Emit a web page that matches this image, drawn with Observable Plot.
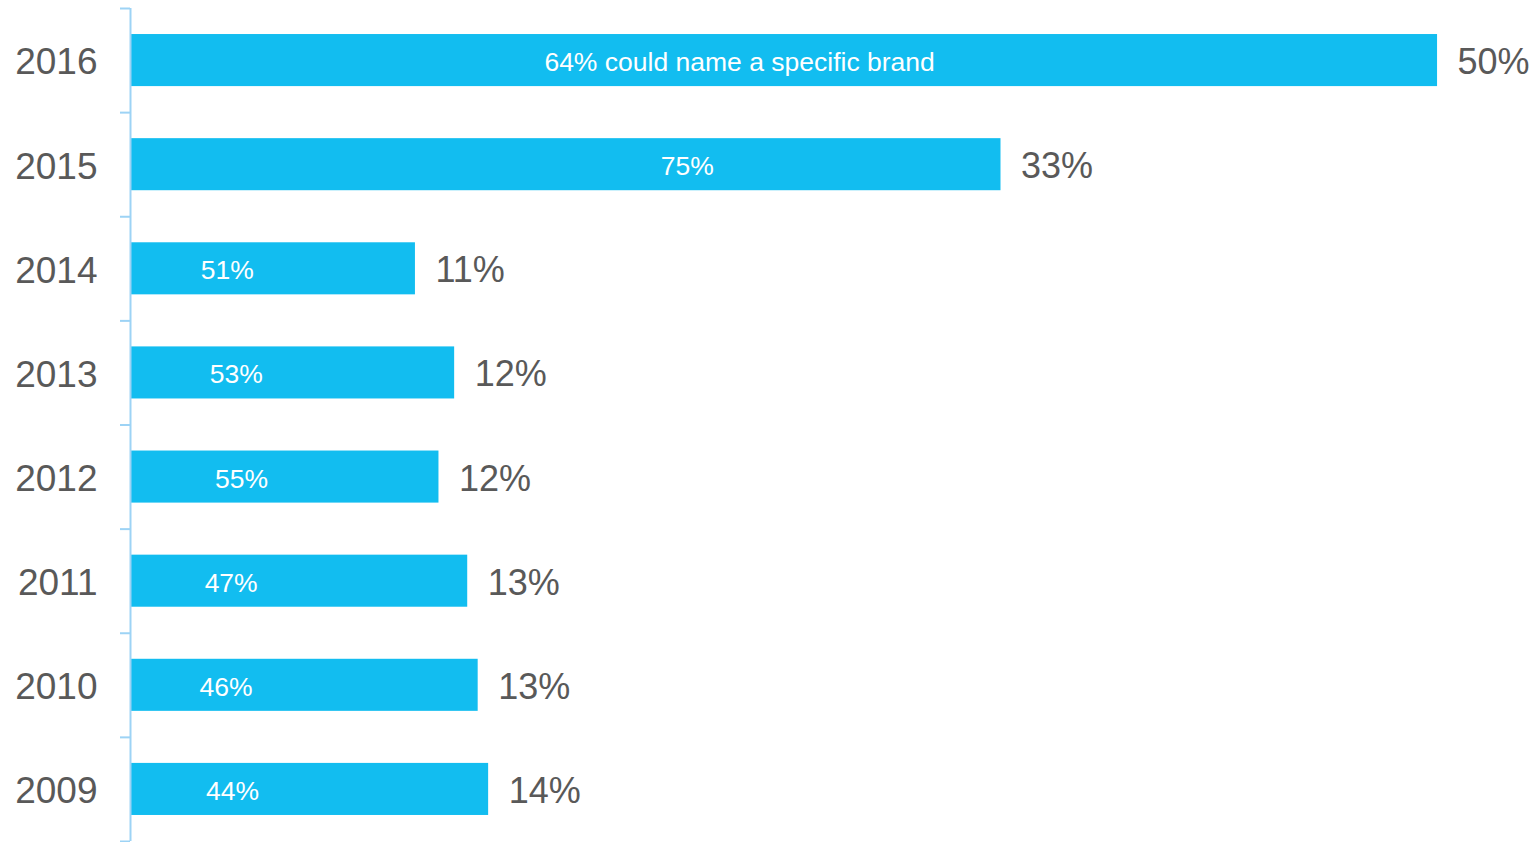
<!DOCTYPE html>
<html>
<head>
<meta charset="utf-8">
<script src="https://cdn.jsdelivr.net/npm/d3@7"></script>
<script src="https://cdn.jsdelivr.net/npm/@observablehq/plot@0.6"></script>
<style>
  html, body { margin: 0; padding: 0; background: #fff; }
  #chart svg { display: block; }
</style>
</head>
<body>
<div id="chart"></div>
<script>
// Data
const years = ["2016", "2015", "2014", "2013", "2012", "2011", "2010", "2009"];
const values = [50, 33.3, 10.9, 12.4, 11.8, 12.9, 13.3, 13.7];
const valueLabels = ["50%", "33%", "11%", "12%", "12%", "13%", "13%", "14%"];
const innerLabels = ["64% could name a specific brand", "75%", "51%", "53%", "55%", "47%", "46%", "44%"];
const innerLabelAt = [23.3, 21.3, 3.7, 4.05, 4.25, 3.85, 3.65, 3.9];

const rows = years.map((year, i) => ({
  year, i, value: values[i], label: valueLabels[i], inner: innerLabels[i], innerAt: innerLabelAt[i]
}));

const barColor = "#12bdf0";
const axisColor = "#9dd3f5";
const textColor = "#595959";
const font = "Liberation Sans, Arial, sans-serif";

const chart = Plot.plot({
  width: 1539,
  height: 842,
  marginLeft: 130,
  marginRight: 0,
  marginTop: 8,
  marginBottom: 1,
  style: { fontFamily: font, background: "#fff" },
  x: { domain: [0, 53.9], axis: null },
  y: { domain: [0, years.length], reverse: true, axis: null },
  marks: [
    Plot.rectX(rows, {
      x1: 0, x2: "value",
      y1: d => d.i + 0.25, y2: d => d.i + 0.75,
      fill: barColor
    }),
    Plot.ruleX([0], { y1: 0, y2: years.length, stroke: axisColor, strokeWidth: 2 }),
    Plot.axisY({
      ticks: d3.range(years.length + 1),
      tickSize: 10,
      tickFormat: () => "",
      stroke: axisColor,
      strokeWidth: 2
    }),
    Plot.axisY({
      ticks: d3.range(years.length).map(i => i + 0.5),
      tickSize: 0,
      tickPadding: 33,
      tickFormat: t => years[Math.floor(t)],
      fontSize: 37,
      fill: textColor,
      dy: 2
    }),
    Plot.text(rows, {
      x: "value", y: d => d.i + 0.5, text: "label",
      textAnchor: "start", dx: 20, dy: 2,
      fontSize: 36, fill: textColor
    }),
    Plot.text(rows, {
      x: "innerAt", y: d => d.i + 0.5, text: "inner",
      textAnchor: "middle", dy: 2,
      fontSize: 26.5, fill: "#ffffff"
    })
  ]
});

document.getElementById("chart").appendChild(chart);
</script>
</body>
</html>
